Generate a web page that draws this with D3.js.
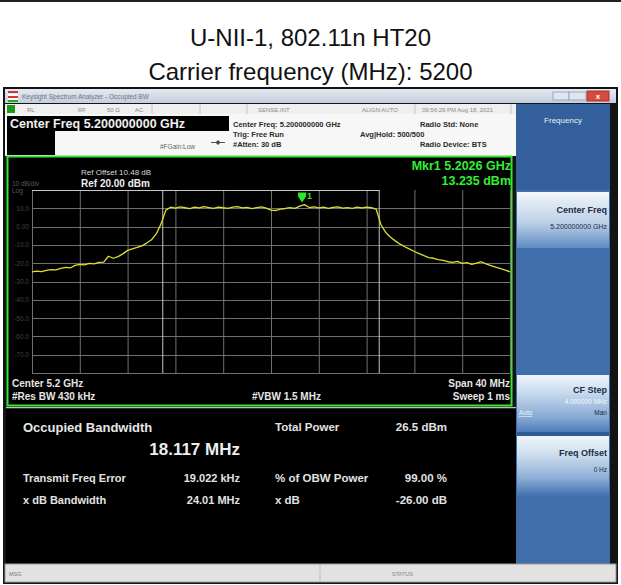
<!DOCTYPE html>
<html><head><meta charset="utf-8">
<script src="https://cdn.jsdelivr.net/npm/d3@7"></script>
<style>
body{margin:0;background:#fff}
svg{display:block}
text{font-family:"Liberation Sans",Arial,sans-serif}
</style>
</head><body>
<svg id="c" width="621" height="585"></svg>
<script>
// ---------- data ----------
const titleLines = ["U-NII-1, 802.11n HT20", "Carrier frequency (MHz): 5200"];
const startFreqMHz = 5180;
const stopFreqMHz = 5220;
const sweepStepMHz = 0.4;
const refLevelDbm = 20;
const bottomLevelDbm = -80;
const xGridMHz = [5180,5184,5188,5192,5196,5200,5204,5208,5212,5216,5220];
const yGridDbm = [20,10,0,-10,-20,-30,-40,-50,-60,-70,-80];
const yTickLabels = ["10.0","0.00","-10.0","-20.0","-30.0","-40.0","-50.0","-60.0","-70.0"];
const yTickValues = [10,0,-10,-20,-30,-40,-50,-60,-70];
const traceLevels = [
 -24.8,-24.3,-24.6,-23.9,-23.5,-23.7,-22.8,-22.3,-22.6,-21.2,
 -20.6,-20.9,-20.1,-20.4,-19.6,-19.4,-16.2,-17.3,-16.4,-14.9,
 -13.0,-12.2,-11.4,-10.5,-9.0,-7.2,-4.0,1.5,9.0,10.6,
 10.1,10.8,10.3,9.8,10.6,10.2,10.9,10.4,9.9,10.7,
 10.3,10.0,10.6,10.9,10.2,10.5,9.8,10.4,10.8,10.1,
 9.0,8.8,9.6,9.9,10.4,10.0,11.2,12.0,10.4,10.8,
 10.2,10.6,9.9,10.5,10.8,10.1,10.4,10.0,10.6,10.2,
 10.7,10.3,9.6,1.0,-3.2,-5.8,-7.8,-9.6,-11.0,-12.3,
 -13.6,-14.8,-15.9,-16.9,-17.3,-18.1,-18.4,-19.2,-19.5,-19.0,
 -20.1,-19.7,-20.6,-20.0,-19.2,-20.4,-21.3,-22.2,-23.0,-23.8,
 -24.7];
const centerFreqMHz = 5200;
const obwMHz = 18.117;
const markerFreqMHz = 5202.6;
const markerLevelDbm = 13.235;
const resultsLeft = [["Transmit Freq Error","19.022 kHz"],["x dB Bandwidth","24.01 MHz"]];
const resultsRight = [["Total Power","26.5 dBm"],["% of OBW Power","99.00 %"],["x dB","-26.00 dB"]];

// ---------- drawing ----------
const svg = d3.select("#c");
const defs = svg.append("defs");
function grad(id, stops){
  const g = defs.append("linearGradient").attr("id",id).attr("x1",0).attr("y1",0).attr("x2",0).attr("y2",1);
  stops.forEach(s=>g.append("stop").attr("offset",s[0]).attr("stop-color",s[1]));
}
grad("tb",[[0,"#e4eaf2"],[1,"#c3cedc"]]);
grad("k1",[[0,"#f6f9fc"],[0.15,"#e3ecf5"],[0.55,"#bcd0e6"],[1,"#5f8cc3"]]);
grad("k2",[[0,"#f0f5fa"],[0.3,"#c9dbee"],[0.75,"#86a8d3"],[1,"#4e7db8"]]);
grad("k3",[[0,"#f0f5fa"],[0.3,"#cfdfef"],[0.7,"#8eaed6"],[1,"#4271af"]]);

// top rule and titles
svg.append("rect").attr("x",0).attr("y",0).attr("width",621).attr("height",2).attr("fill","#222");
svg.selectAll("text.title").data(titleLines).join("text").attr("class","title")
  .attr("x",310.5).attr("y",(d,i)=>46+i*34).attr("text-anchor","middle")
  .attr("font-size",24).attr("fill","#111").text(d=>d);

// screenshot frame
svg.append("rect").attr("x",3).attr("y",87).attr("width",615).attr("height",497).attr("fill","#141414");
// title bar
svg.append("rect").attr("x",5).attr("y",89).attr("width",611).attr("height",14).attr("fill","url(#tb)");
[["#d33",91],["#fff",94],["#d33",96],["#fff",98],["#2a2",100]].forEach(([c,y])=>
  svg.append("rect").attr("x",8).attr("y",y).attr("width",10).attr("height",2).attr("fill",c));
svg.append("text").attr("x",22).attr("y",99).attr("font-size",6.5).attr("fill","#6a7384").text("Keysight Spectrum Analyzer - Occupied BW");
svg.append("rect").attr("x",553).attr("y",92).attr("width",16).attr("height",8).attr("fill","#dfe6ef").attr("stroke","#9aa8ba");
svg.append("rect").attr("x",569).attr("y",92).attr("width",17).attr("height",8).attr("fill","#dfe6ef").attr("stroke","#9aa8ba");
svg.append("rect").attr("x",587).attr("y",91).attr("width",22).attr("height",10).attr("fill","#d64b3c").attr("stroke","#a33");
svg.append("text").attr("x",598).attr("y",99).attr("text-anchor","middle").attr("font-size",8).attr("font-weight","bold").attr("fill","#fff").text("x");

// status row + info area
svg.append("rect").attr("x",5).attr("y",104).attr("width",511).attr("height",52).attr("fill","#f7f7f7");
svg.append("rect").attr("x",5).attr("y",104).attr("width",511).attr("height",10).attr("fill","#efefef");
svg.append("rect").attr("x",7).attr("y",105).attr("width",8).attr("height",8).attr("fill","#1d9a1d");
[152,200,247,415,511].forEach(x=>svg.append("line").attr("x1",x).attr("x2",x).attr("y1",104).attr("y2",114).attr("stroke","#c4c4c4"));
[["RL",27],["RF",78],["50 \u03A9",107],["AC",135],["SENSE:INT",258],["ALIGN AUTO",362],["09:56:29 PM Aug 18, 2021",422]].forEach(([t,x])=>
  svg.append("text").attr("x",x).attr("y",111.5).attr("font-size",6).attr("fill","#8a8a8a").text(t));

svg.append("rect").attr("x",7).attr("y",116).attr("width",222).attr("height",15).attr("fill","#000");
svg.append("text").attr("x",10).attr("y",128).attr("font-size",12.5).attr("font-weight","bold").attr("fill","#f0f0f0").text("Center Freq 5.200000000 GHz");
svg.append("rect").attr("x",7).attr("y",131).attr("width",48).attr("height",24).attr("fill","#000");
svg.append("text").attr("x",160).attr("y",149).attr("font-size",6.5).attr("fill","#666").text("#FGain:Low");
svg.append("line").attr("x1",211).attr("x2",225).attr("y1",142.5).attr("y2",142.5).attr("stroke","#555");
svg.append("path").attr("d","M218,140 L220.5,142.5 L218,145 L215.5,142.5Z").attr("fill","#444");

const info = [["Center Freq: 5.200000000 GHz",233,127],["Trig: Free Run",233,136.5],["#Atten: 30 dB",233,146.5],
  ["Avg|Hold: 500/500",360,136.5],["Radio Std: None",420,126.5],["Radio Device: BTS",420,147]];
info.forEach(([t,x,y])=>svg.append("text").attr("x",x).attr("y",y).attr("font-size",7.5).attr("font-weight","bold").attr("fill","#2a2a2a").text(t));

// right soft-key panel
svg.append("rect").attr("x",516).attr("y",104).attr("width",94).attr("height",460).attr("fill","#3f6eab");
svg.append("rect").attr("x",516).attr("y",104).attr("width",94).attr("height",86).attr("fill","#33609c");
svg.append("text").attr("x",563).attr("y",123).attr("text-anchor","middle").attr("font-size",8).attr("fill","#e8eef6").text("Frequency");
svg.append("rect").attr("x",517).attr("y",192).attr("width",92).attr("height",56).attr("fill","url(#k1)");
svg.append("rect").attr("x",517).attr("y",375).attr("width",92).attr("height",57).attr("fill","url(#k2)");
svg.append("rect").attr("x",517).attr("y",432).attr("width",92).attr("height",4).attr("fill","#2f5c95");
svg.append("rect").attr("x",517).attr("y",436).attr("width",92).attr("height",60).attr("fill","url(#k3)");
const keys = [["Center Freq",213,9,"bold","#1b2b45"],["5.200000000 GHz",229,7,"normal","#1b2b45"],
  ["CF Step",393,9,"bold","#1b2b45"],["4.000000 MHz",404,6.5,"normal","#f4f8fc"],["Man",415,6.5,"normal","#1b2b45"],
  ["Freq Offset",456,9,"bold","#1b2b45"],["0 Hz",472,6.5,"normal","#1b2b45"]];
keys.forEach(([t,y,fs,fw,c])=>svg.append("text").attr("x",607).attr("y",y).attr("text-anchor","end")
  .attr("font-size",fs).attr("font-weight",fw).attr("fill",c).text(t));
svg.append("text").attr("x",519).attr("y",415).attr("font-size",6.5).attr("fill","#eef3fa").attr("text-decoration","underline").text("Auto");

// graph frame
const gx0 = 32, gx1 = 510, gy0 = 190, gy1 = 373;
svg.append("rect").attr("x",7.5).attr("y",156.5).attr("width",504).attr("height",249).attr("fill","#000")
  .attr("stroke","#36e536").attr("stroke-width",2);

const x = d3.scaleLinear().domain([startFreqMHz, stopFreqMHz]).range([gx0, gx1]);
const y = d3.scaleLinear().domain([bottomLevelDbm, refLevelDbm]).range([gy1, gy0]);

const grid = svg.append("g");
grid.selectAll("line.v").data(xGridMHz).join("line").attr("class","v")
  .attr("x1",d=>x(d)+0.5).attr("x2",d=>x(d)+0.5).attr("y1",gy0).attr("y2",gy1)
  .attr("stroke","#707070").attr("stroke-width",1);
grid.selectAll("line.h").data(yGridDbm.slice(1)).join("line").attr("class","h")
  .attr("x1",gx0).attr("x2",gx1).attr("y1",d=>Math.round(y(d))+0.5).attr("y2",d=>Math.round(y(d))+0.5)
  .attr("stroke","#707070").attr("stroke-width",1);
// bright top line up to OBW edge and OBW edge lines
const obwLo = centerFreqMHz - obwMHz/2, obwHi = centerFreqMHz + obwMHz/2;
grid.append("line").attr("x1",gx0).attr("x2",x(obwHi)).attr("y1",gy0+0.5).attr("y2",gy0+0.5).attr("stroke","#c8c8c8");
[obwLo, obwHi].forEach(f=>grid.append("line").attr("x1",x(f)).attr("x2",x(f)).attr("y1",gy0).attr("y2",gy1)
  .attr("stroke","#c4c4c4").attr("stroke-width",1));

svg.selectAll("text.yl").data(yTickValues).join("text").attr("class","yl")
  .attr("x",29).attr("y",d=>y(d)+2.5).attr("text-anchor","end").attr("font-size",6.5).attr("fill","#3e424c")
  .text((d,i)=>yTickLabels[i]);
svg.append("text").attr("x",12).attr("y",186).attr("font-size",6.5).attr("fill","#5a5a5a").text("10 dB/div");
svg.append("text").attr("x",12).attr("y",193).attr("font-size",6.5).attr("fill","#5a5a5a").text("Log");
svg.append("text").attr("x",81).attr("y",175).attr("font-size",8).attr("fill","#d8d8d8").text("Ref Offset 10.48 dB");
svg.append("text").attr("x",81).attr("y",187).attr("font-size",10).attr("font-weight","bold").attr("fill","#eeeeee").text("Ref 20.00 dBm");

// trace
const line = d3.line().x((d,i)=>x(startFreqMHz + i*sweepStepMHz)).y(d=>y(d));
svg.append("path").datum(traceLevels).attr("d",line).attr("fill","none")
  .attr("stroke","#dede30").attr("stroke-width",1.3).attr("stroke-linejoin","round");

// marker
const mx = x(markerFreqMHz), my = y(markerLevelDbm);
svg.append("path").attr("d",`M${mx},${my} L${mx-4},${my-6} L${mx-4},${my-10} L${mx+4},${my-10} L${mx+4},${my-6} Z`)
  .attr("fill","#2ee62e");
svg.append("text").attr("x",mx+5).attr("y",my-3).attr("font-size",9).attr("font-weight","bold").attr("fill","#2ee62e").text("1");
svg.append("text").attr("x",511).attr("y",170).attr("text-anchor","end").attr("font-size",12.5).attr("font-weight","bold")
  .attr("fill","#33ee33").text("Mkr1  " + (markerFreqMHz/1000).toFixed(4) + " GHz");
svg.append("text").attr("x",511).attr("y",185).attr("text-anchor","end").attr("font-size",12.5).attr("font-weight","bold")
  .attr("fill","#33ee33").text(markerLevelDbm.toFixed(3) + " dBm");

// bottom annotations
const ann = [["Center  5.2 GHz",12,387,"start"],["#Res BW  430 kHz",12,400,"start"],["#VBW  1.5 MHz",252,400,"start"],
  ["Span 40 MHz",510,387,"end"],["Sweep  1 ms",510,400,"end"]];
ann.forEach(([t,xx,yy,a])=>svg.append("text").attr("x",xx).attr("y",yy).attr("text-anchor",a)
  .attr("font-size",10).attr("font-weight","bold").attr("fill","#e6e6e6").text(t));

// results area
svg.append("rect").attr("x",6).attr("y",407).attr("width",510).attr("height",1.5).attr("fill","#bdbdbd");
svg.append("rect").attr("x",6).attr("y",408.5).attr("width",510).attr("height",155).attr("fill","#000");
svg.append("text").attr("x",23).attr("y",432).attr("font-size",13).attr("font-weight","bold").attr("fill","#e6e6e6").text("Occupied Bandwidth");
svg.append("text").attr("x",240).attr("y",455).attr("text-anchor","end").attr("font-size",17).attr("font-weight","bold").attr("fill","#eeeeee")
  .text(obwMHz.toFixed(3) + " MHz");
resultsLeft.forEach(([l,v],i)=>{
  svg.append("text").attr("x",23).attr("y",482+i*22).attr("font-size",11).attr("font-weight","bold").attr("fill","#e2e2e2").text(l);
  svg.append("text").attr("x",240).attr("y",482+i*22).attr("text-anchor","end").attr("font-size",11).attr("font-weight","bold").attr("fill","#e2e2e2").text(v);
});
resultsRight.forEach(([l,v],i)=>{
  const yy = i===0 ? 431 : 460 + i*22;
  svg.append("text").attr("x",275).attr("y",yy).attr("font-size",11.5).attr("font-weight","bold").attr("fill","#e2e2e2").text(l);
  svg.append("text").attr("x",447).attr("y",yy).attr("text-anchor","end").attr("font-size",11.5).attr("font-weight","bold").attr("fill","#e2e2e2").text(v);
});

// status bar
svg.append("rect").attr("x",5).attr("y",564).attr("width",611).attr("height",18).attr("fill","#e2e2e2").attr("stroke","#9a9a9a");
svg.append("line").attr("x1",320).attr("x2",320).attr("y1",565).attr("y2",581).attr("stroke","#c0c0c0");
svg.append("text").attr("x",9).attr("y",576).attr("font-size",5.5).attr("fill","#777").text("MSG");
svg.append("text").attr("x",392).attr("y",576).attr("font-size",5.5).attr("fill","#888").text("STATUS");
</script>
</body></html>
